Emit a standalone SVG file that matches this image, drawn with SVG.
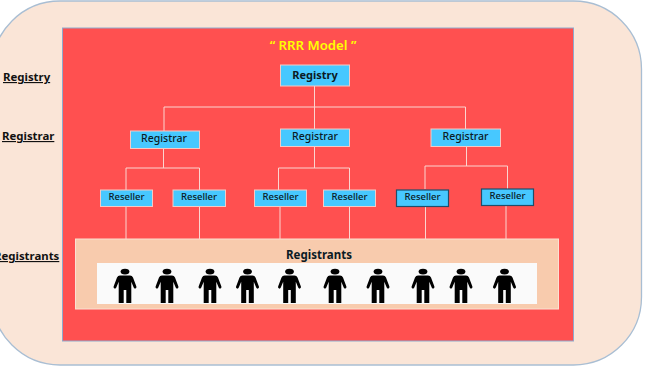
<svg xmlns="http://www.w3.org/2000/svg" width="649" height="369" viewBox="0 0 649 369">
<style>
text{font-family:"Noto Sans","DejaVu Sans",sans-serif;fill:#0b1a24;text-anchor:middle}
.box{fill:#47c8ff;stroke:#f6c9c4;stroke-width:1}
.dark{stroke:#1f4e6b;stroke-width:1.2}
.t1{font-size:10.5px;font-weight:500}
.t2{font-size:9.500px;font-weight:500}
.side{font-size:11.400px;font-weight:700;text-anchor:start;fill:#111;text-decoration:underline}
.wire{fill:none;stroke:#fbd5d0;stroke-width:1}
</style>
<defs>
<g id="person"><ellipse cx="0" cy="2.6" rx="4.4" ry="2.9" fill="#000"/><path d="M-5 6.600H5Q7.200 6.600 8 8.600L11.400 17.600Q11.800 19.200 10.400 19.600Q9.200 19.800 8.700 18.600L6.300 12.800V34H1.300V21H-1.300V34H-6.300V12.800L-8.700 18.600Q-9.200 19.800-10.400 19.600Q-11.800 19.200-11.400 17.600L-8 8.600Q-7.200 6.600-5 6.600Z" fill="#000"/></g>
</defs>
<rect width="649" height="369" fill="#fff"/>
<g id="frame">
<rect x="-8" y="1" width="649.500" height="364" rx="68" ry="68" fill="#fae5d7" stroke="#a9bed3" stroke-width="1.3"/>
<rect x="62.500" y="28" width="511" height="313" fill="#ff5050" stroke="#8fa9cc" stroke-width="1"/>
<text x="313" y="50" style="font-size:13.200px;font-weight:600;fill:#ffff00">“ RRR Model ”</text>
</g>
<g id="side-labels">
<text class="side" x="3" y="81">Registry</text>
<text class="side" x="2" y="140">Registrar</text>
<text class="side" x="-6" y="260">Registrants</text>
</g>
<g id="registrants">
<rect x="75.500" y="239" width="483" height="70" fill="#f8cbad" stroke="#fbe0d2" stroke-width="1"/>
<rect x="97" y="263" width="440" height="41" fill="#fafafa"/>
<text x="319" y="259" style="font-size:11.500px;font-weight:700">Registrants</text>
<use href="#person" x="125" y="269"/>
<use href="#person" x="167" y="269"/>
<use href="#person" x="210" y="269"/>
<use href="#person" x="247.500" y="269"/>
<use href="#person" x="289.500" y="269"/>
<use href="#person" x="335" y="269"/>
<use href="#person" x="378" y="269"/>
<use href="#person" x="423" y="269"/>
<use href="#person" x="461" y="269"/>
<use href="#person" x="504.500" y="269"/>
</g>
<g id="connectors" class="wire">
<path d="M314.500 86V129M164 131V107H465.500V129"/>
<path d="M163.500 148.500V168M126 190V168H199.500V190"/>
<path d="M314.500 146.500V168M278.500 190V168H349.500V190"/>
<path d="M466.500 146.500V166M425 189V166H507.500V189"/>
<path d="M126 206.500V239M199.500 206.500V239M280 206.500V239M349.500 206.500V239M425.500 206.500V239M506 205.500V239"/>
</g>
<g id="registry"><rect class="box" x="280.500" y="65" width="69" height="21"/><text class="t1" x="315" y="79" style="font-weight:700;font-size:11px">Registry</text></g>
<g id="registrar-1"><rect class="box" x="130.500" y="131" width="69" height="17.500"/><text class="t1" x="164" y="142">Registrar</text></g>
<g id="registrar-2"><rect class="box" x="280.500" y="129" width="69" height="17.500"/><text class="t1" x="315" y="140">Registrar</text></g>
<g id="registrar-3"><rect class="box" x="431" y="129" width="69.500" height="17.500"/><text class="t1" x="465.500" y="140">Registrar</text></g>
<g id="reseller-1"><rect class="box" x="100.500" y="190" width="52" height="16.500"/><text class="t2" x="126.500" y="200">Reseller</text></g>
<g id="reseller-2"><rect class="box" x="173" y="190" width="52.500" height="16.500"/><text class="t2" x="199" y="200">Reseller</text></g>
<g id="reseller-3"><rect class="box" x="254.500" y="190" width="52" height="16.500"/><text class="t2" x="280.500" y="200">Reseller</text></g>
<g id="reseller-4"><rect class="box" x="323.500" y="190" width="52" height="16.500"/><text class="t2" x="349.500" y="200">Reseller</text></g>
<g id="reseller-5"><rect class="box dark" x="396.500" y="190" width="52" height="16.500"/><text class="t2" x="422.500" y="200">Reseller</text></g>
<g id="reseller-6"><rect class="box dark" x="481.500" y="189" width="52" height="16.500"/><text class="t2" x="507.500" y="199">Reseller</text></g>
</svg>
